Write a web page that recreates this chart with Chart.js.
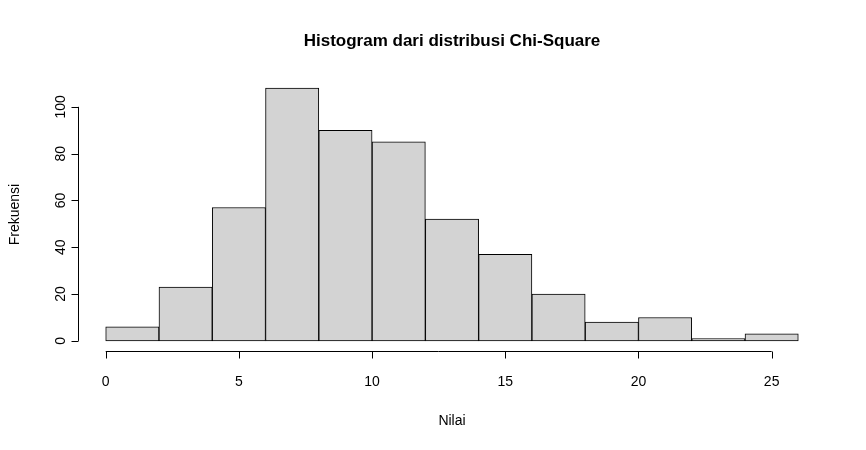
<!DOCTYPE html><html><head><script src="https://cdn.jsdelivr.net/npm/chart.js@4"></script>
<style>body{margin:0;background:#fff}</style></head><body>
<div style="width:866px;height:450px"><canvas id="c"></canvas></div>
<script>
const binStarts=[0,2,4,6,8,10,12,14,16,18,20,22,24];
const binWidth=2;
const freqs=[6,23,57,108,90,85,52,37,20,8,10,1,3];
const xTicks=[0,5,10,15,20,25];
const yTicks=[0,20,40,60,80,100];
const title="Histogram dari distribusi Chi-Square";
const xLabel="Nilai", yLabel="Frekuensi";
const F='"Liberation Sans", Arial, sans-serif';
const axes={id:'axes',afterDraw(ch){
 const c=ch.ctx,x=ch.scales.x,y=ch.scales.y,a=ch.chartArea;
 c.save();c.strokeStyle='#000';c.fillStyle='#000';c.lineWidth=1;
 const ax=a.bottom+0.5, ay=a.left+0.5;
 c.beginPath();c.moveTo(x.getPixelForValue(xTicks[0]),ax);c.lineTo(x.getPixelForValue(xTicks[xTicks.length-1]),ax);
 xTicks.forEach(t=>{const p=Math.round(x.getPixelForValue(t))+0.5;c.moveTo(p,ax);c.lineTo(p,ax+7);});
 c.moveTo(ay,y.getPixelForValue(yTicks[0]));c.lineTo(ay,y.getPixelForValue(yTicks[yTicks.length-1]));
 yTicks.forEach(t=>{const p=Math.round(y.getPixelForValue(t))+0.5;c.moveTo(ay,p);c.lineTo(ay-7,p);});
 c.stroke();
 c.font='14px '+F;c.textAlign='center';c.textBaseline='middle';
 xTicks.forEach(t=>c.fillText(t,x.getPixelForValue(t),382));
 yTicks.forEach(t=>{c.save();c.translate(61,y.getPixelForValue(t));c.rotate(-Math.PI/2);c.fillText(t,0,0);c.restore();});
 c.fillText(xLabel,(a.left+a.right)/2,421);
 c.save();c.translate(15,(a.top+a.bottom)/2);c.rotate(-Math.PI/2);c.fillText(yLabel,0,0);c.restore();
 c.font='bold 17px '+F;c.fillText(title,(a.left+a.right)/2,41);
 c.restore();}};
new Chart(document.getElementById('c'),{type:'bar',
 data:{datasets:[{data:binStarts.map((s,i)=>({x:s+binWidth/2,y:freqs[i]})),backgroundColor:'#d3d3d3',borderColor:'#000',borderWidth:1,borderSkipped:false,barPercentage:1,categoryPercentage:1}]},
 options:{animation:false,responsive:true,maintainAspectRatio:false,
  layout:{padding:{left:78,right:40,top:78,bottom:99}},
  plugins:{legend:{display:false},tooltip:{enabled:false}},
  scales:{x:{type:'linear',offset:false,min:-1.04,max:27.04,display:false},y:{min:-4.32,max:112.32,display:false}}},
 plugins:[axes]});
</script></body></html>
